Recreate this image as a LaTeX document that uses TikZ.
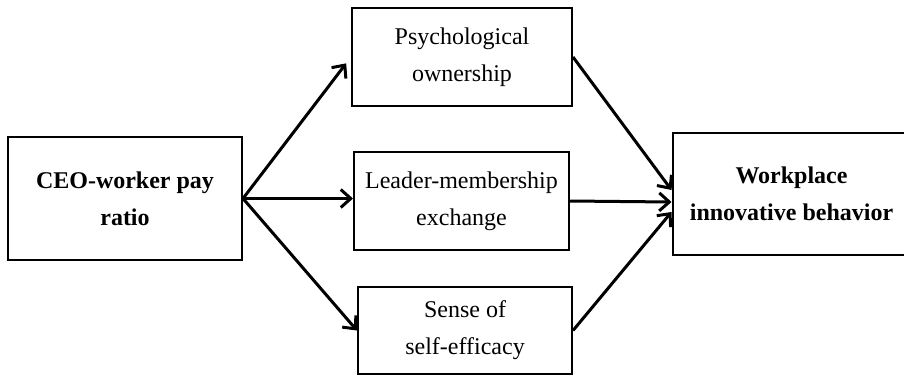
\documentclass[tikz,border=0pt]{standalone}
\usepackage{fontspec}
\setmainfont{Liberation Serif}
\usetikzlibrary{arrows.meta}

\begin{document}
\begin{tikzpicture}[x=0.5pt, y=-0.5pt,
    box/.style={draw, rectangle, line width=1pt, align=center, inner sep=0pt, font=\fontsize{12}{18.5}\selectfont},
    keybox/.style={box, font=\fontsize{12}{18.5}\selectfont\bfseries},
    link/.style={-{Straight Barb[length=5pt,width=9pt]}, line width=1.5pt}]
    \useasboundingbox (0,0) rectangle (904,376);

    \node [keybox, minimum width=117pt, minimum height=61.5pt] (ceo) at (125,198.5) {CEO-worker pay \\ ratio};
    \node [box, minimum width=110pt, minimum height=49pt] (po) at (462,57) {Psychological \\ ownership};
    \node [box, minimum width=107.5pt, minimum height=49pt] (lmx) at (461.5,201) {Leader-membership \\ exchange};
    \node [box, minimum width=107pt, minimum height=43.5pt] (sse) at (465,330.5) {Sense of \\ self-efficacy};
    \node [keybox, minimum width=119pt, minimum height=61pt] (wib) at (791.5,194) {Workplace \\ innovative behavior};

    % paths from the predictor to the mediators
    \draw [link, shorten >=4pt] (ceo.east) -- (po.west);
    \draw [link] (ceo.east) -- (ceo.east -| lmx.west);
    \draw [link] (ceo.east) -- (sse.west);
    % paths from the mediators to the outcome
    \draw [link] (po.east) -- ([yshift=2pt]wib.west);
    \draw [link] (lmx.east) -- ([yshift=-4pt]wib.west);
    \draw [link] (sse.east) -- ([yshift=-9pt]wib.west);
\end{tikzpicture}
\end{document}
